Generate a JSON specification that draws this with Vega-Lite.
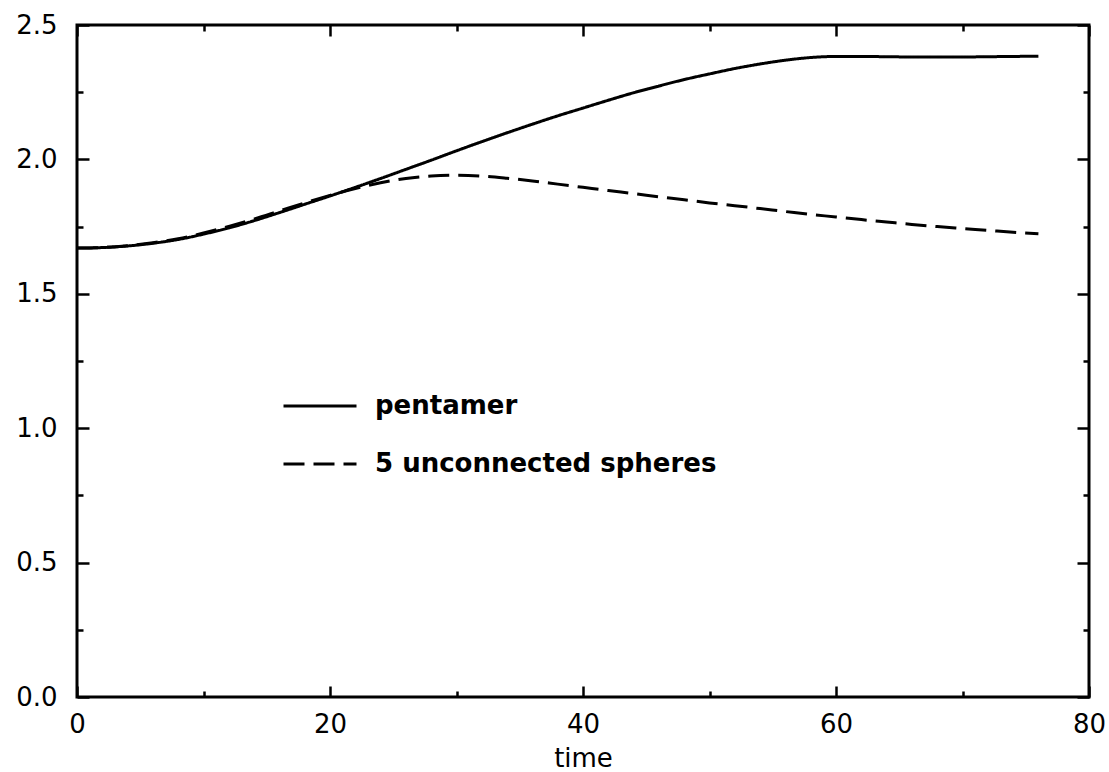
{
  "$schema": "https://vega.github.io/schema/vega-lite/v6.json",
  "width": 1012,
  "height": 672,
  "autosize": {"type": "none"},
  "padding": {"left": 77, "top": 25, "right": 20, "bottom": 75},
  "background": "white",
  "config": {
    "view": {"stroke": "black", "strokeWidth": 3},
    "axis": {"grid": false, "domain": false, "tickColor": "black", "tickWidth": 2.5, "labelColor": "black", "labelFont": "DejaVu Sans", "labelFontSize": 26, "titleFont": "DejaVu Sans", "titleFontSize": 26, "titleFontWeight": "normal", "titleColor": "black"}
  },
  "datasets": {
    "curves": [
      {"t": 0, "v": 1.670, "series": "pentamer"},
      {"t": 2, "v": 1.672, "series": "pentamer"},
      {"t": 4, "v": 1.678, "series": "pentamer"},
      {"t": 6, "v": 1.688, "series": "pentamer"},
      {"t": 8, "v": 1.702, "series": "pentamer"},
      {"t": 10, "v": 1.722, "series": "pentamer"},
      {"t": 12, "v": 1.745, "series": "pentamer"},
      {"t": 14, "v": 1.772, "series": "pentamer"},
      {"t": 16, "v": 1.802, "series": "pentamer"},
      {"t": 18, "v": 1.833, "series": "pentamer"},
      {"t": 20, "v": 1.864, "series": "pentamer"},
      {"t": 22, "v": 1.896, "series": "pentamer"},
      {"t": 24, "v": 1.929, "series": "pentamer"},
      {"t": 26, "v": 1.963, "series": "pentamer"},
      {"t": 28, "v": 1.997, "series": "pentamer"},
      {"t": 30, "v": 2.032, "series": "pentamer"},
      {"t": 32, "v": 2.066, "series": "pentamer"},
      {"t": 34, "v": 2.099, "series": "pentamer"},
      {"t": 36, "v": 2.131, "series": "pentamer"},
      {"t": 38, "v": 2.162, "series": "pentamer"},
      {"t": 40, "v": 2.191, "series": "pentamer"},
      {"t": 42, "v": 2.220, "series": "pentamer"},
      {"t": 44, "v": 2.248, "series": "pentamer"},
      {"t": 46, "v": 2.273, "series": "pentamer"},
      {"t": 48, "v": 2.297, "series": "pentamer"},
      {"t": 50, "v": 2.318, "series": "pentamer"},
      {"t": 52, "v": 2.338, "series": "pentamer"},
      {"t": 54, "v": 2.355, "series": "pentamer"},
      {"t": 56, "v": 2.369, "series": "pentamer"},
      {"t": 58, "v": 2.379, "series": "pentamer"},
      {"t": 60, "v": 2.383, "series": "pentamer"},
      {"t": 62, "v": 2.383, "series": "pentamer"},
      {"t": 64, "v": 2.382, "series": "pentamer"},
      {"t": 66, "v": 2.381, "series": "pentamer"},
      {"t": 68, "v": 2.381, "series": "pentamer"},
      {"t": 70, "v": 2.381, "series": "pentamer"},
      {"t": 72, "v": 2.382, "series": "pentamer"},
      {"t": 74, "v": 2.383, "series": "pentamer"},
      {"t": 76, "v": 2.384, "series": "pentamer"},
      {"t": 0, "v": 1.670, "series": "5 unconnected spheres"},
      {"t": 2, "v": 1.672, "series": "5 unconnected spheres"},
      {"t": 4, "v": 1.679, "series": "5 unconnected spheres"},
      {"t": 6, "v": 1.690, "series": "5 unconnected spheres"},
      {"t": 8, "v": 1.705, "series": "5 unconnected spheres"},
      {"t": 10, "v": 1.726, "series": "5 unconnected spheres"},
      {"t": 12, "v": 1.751, "series": "5 unconnected spheres"},
      {"t": 14, "v": 1.778, "series": "5 unconnected spheres"},
      {"t": 16, "v": 1.808, "series": "5 unconnected spheres"},
      {"t": 18, "v": 1.838, "series": "5 unconnected spheres"},
      {"t": 20, "v": 1.866, "series": "5 unconnected spheres"},
      {"t": 22, "v": 1.892, "series": "5 unconnected spheres"},
      {"t": 24, "v": 1.913, "series": "5 unconnected spheres"},
      {"t": 26, "v": 1.929, "series": "5 unconnected spheres"},
      {"t": 28, "v": 1.938, "series": "5 unconnected spheres"},
      {"t": 30, "v": 1.941, "series": "5 unconnected spheres"},
      {"t": 32, "v": 1.938, "series": "5 unconnected spheres"},
      {"t": 34, "v": 1.930, "series": "5 unconnected spheres"},
      {"t": 36, "v": 1.920, "series": "5 unconnected spheres"},
      {"t": 38, "v": 1.908, "series": "5 unconnected spheres"},
      {"t": 40, "v": 1.896, "series": "5 unconnected spheres"},
      {"t": 42, "v": 1.884, "series": "5 unconnected spheres"},
      {"t": 44, "v": 1.873, "series": "5 unconnected spheres"},
      {"t": 46, "v": 1.861, "series": "5 unconnected spheres"},
      {"t": 48, "v": 1.850, "series": "5 unconnected spheres"},
      {"t": 50, "v": 1.838, "series": "5 unconnected spheres"},
      {"t": 52, "v": 1.828, "series": "5 unconnected spheres"},
      {"t": 54, "v": 1.817, "series": "5 unconnected spheres"},
      {"t": 56, "v": 1.806, "series": "5 unconnected spheres"},
      {"t": 58, "v": 1.795, "series": "5 unconnected spheres"},
      {"t": 60, "v": 1.786, "series": "5 unconnected spheres"},
      {"t": 62, "v": 1.776, "series": "5 unconnected spheres"},
      {"t": 64, "v": 1.767, "series": "5 unconnected spheres"},
      {"t": 66, "v": 1.758, "series": "5 unconnected spheres"},
      {"t": 68, "v": 1.750, "series": "5 unconnected spheres"},
      {"t": 70, "v": 1.743, "series": "5 unconnected spheres"},
      {"t": 72, "v": 1.736, "series": "5 unconnected spheres"},
      {"t": 74, "v": 1.729, "series": "5 unconnected spheres"},
      {"t": 76, "v": 1.723, "series": "5 unconnected spheres"}
    ]
  },
  "data": {"name": "curves"},
  "resolve": {"axis": {"x": "independent", "y": "independent"}},
  "layer": [
    {
      "mark": {"type": "line", "color": "black", "strokeWidth": 3, "interpolate": "monotone"},
      "encoding": {
        "x": {"field": "t", "type": "quantitative", "scale": {"domain": [0, 80], "nice": false, "zero": false},
              "axis": {"orient": "bottom", "values": [0, 20, 40, 60, 80], "tickSize": -11, "labelPadding": 25, "labelFlush": false, "labelOverlap": false, "title": "time", "titlePadding": 8}},
        "y": {"field": "v", "type": "quantitative", "scale": {"domain": [0, 2.5], "nice": false, "zero": false},
              "axis": {"orient": "left", "values": [0, 0.5, 1, 1.5, 2, 2.5], "format": ".1f", "tickSize": -12, "labelPadding": 32, "labelFlush": false, "labelOverlap": false, "title": null}},
        "strokeDash": {"field": "series", "type": "nominal",
              "scale": {"domain": ["pentamer", "5 unconnected spheres"], "range": [[1, 0], [21, 9]]},
              "legend": {"orient": "none", "legendX": 205, "legendY": 343, "title": null, "padding": 0, "symbolType": "stroke", "symbolSize": 5329, "symbolStrokeWidth": 3, "symbolStrokeColor": "black", "labelFont": "DejaVu Sans", "labelFontWeight": "bold", "labelFontSize": 26, "labelColor": "black", "labelOffset": 17, "rowPadding": 7, "labelLimit": 700}},
        "detail": {"field": "series"}
      }
    },
    {
      "mark": {"type": "line", "opacity": 0},
      "encoding": {
        "x": {"field": "t", "type": "quantitative", "axis": {"orient": "bottom", "values": [10, 30, 50, 70], "tickSize": -6, "labels": false, "title": null}},
        "y": {"field": "v", "type": "quantitative", "axis": {"orient": "left", "values": [0.25, 0.75, 1.25, 1.75, 2.25], "tickSize": -6, "labels": false, "title": null}},
        "detail": {"field": "series"}
      }
    },
    {
      "mark": {"type": "line", "opacity": 0},
      "encoding": {
        "x": {"field": "t", "type": "quantitative", "axis": {"orient": "top", "values": [0, 20, 40, 60, 80], "tickSize": -11, "labels": false, "title": null}},
        "y": {"field": "v", "type": "quantitative", "axis": {"orient": "right", "values": [0, 0.5, 1, 1.5, 2, 2.5], "tickSize": -12, "labels": false, "title": null}},
        "detail": {"field": "series"}
      }
    },
    {
      "mark": {"type": "line", "opacity": 0},
      "encoding": {
        "x": {"field": "t", "type": "quantitative", "axis": {"orient": "top", "values": [10, 30, 50, 70], "tickSize": -6, "labels": false, "title": null}},
        "y": {"field": "v", "type": "quantitative", "axis": {"orient": "right", "values": [0.25, 0.75, 1.25, 1.75, 2.25], "tickSize": -6, "labels": false, "title": null}},
        "detail": {"field": "series"}
      }
    }
  ]
}
